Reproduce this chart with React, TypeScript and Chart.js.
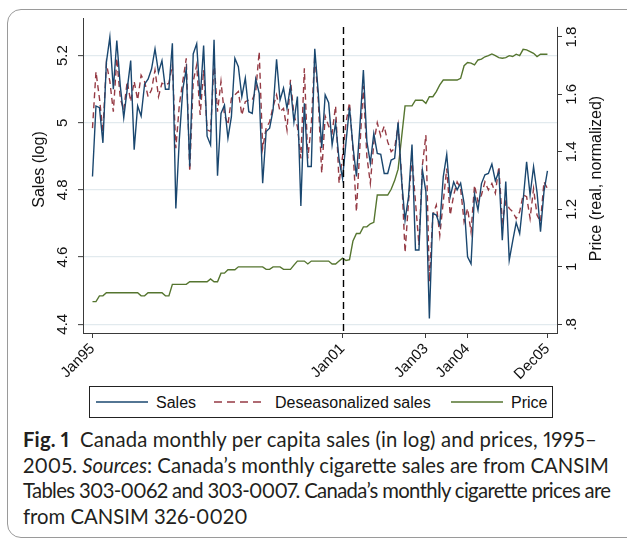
import React, { useEffect, useRef } from 'react';
import { Chart, registerables } from 'chart.js';

Chart.register(...registerables);

// Month labels Jan95 … Dec05
const MONTH_NAMES = ['Jan', 'Feb', 'Mar', 'Apr', 'May', 'Jun', 'Jul', 'Aug', 'Sep', 'Oct', 'Nov', 'Dec'];
const YEARS = ['95', '96', '97', '98', '99', '00', '01', '02', '03', '04', '05'];
const MONTHS = YEARS.flatMap((y) => MONTH_NAMES.map((m) => m + y));

const X_TICK_LABELS = ['Jan95', 'Jan01', 'Jan03', 'Jan04', 'Dec05'];
const BREAK_MONTH = 'Jan01';

const SALES_TICKS = [4.4, 4.6, 4.8, 5.0, 5.2];
const SALES_TICK_LABELS = ['4.4', '4.6', '4.8', '5', '5.2'];
const PRICE_TICKS = [0.8, 1.0, 1.2, 1.4, 1.6, 1.8];
const PRICE_TICK_LABELS = ['.8', '1', '1.2', '1.4', '1.6', '1.8'];

// Monthly per capita sales (log)
const SALES = [
  4.84, 5.05, 5.045, 4.94, 5.18, 5.255, 5.10, 5.245, 5.11, 5.015, 5.10, 5.185,
  4.92, 5.05, 5.02, 5.115, 5.13, 5.16, 5.22, 5.15, 5.185, 5.10, 5.10, 5.237,
  4.745, 4.95, 5.10, 5.16, 4.87, 5.205, 5.235, 5.07, 5.23, 4.96, 4.934, 5.247,
  4.842, 5.028, 5.053, 4.954, 5.018, 5.192, 5.167, 5.078, 5.133, 5.033, 5.028, 5.13,
  5.088, 4.82, 4.974, 4.984, 5.038, 5.189, 5.068, 5.103, 5.043, 5.108, 5.003, 5.078,
  4.752, 5.058, 4.87, 4.87, 5.22, 5.09, 4.925, 5.083, 5.06, 4.934, 5.0, 4.89,
  4.834, 4.943, 5.045, 4.93, 4.84, 4.99, 5.157, 4.945, 4.88, 4.968, 4.909, 4.906,
  4.849, 4.849, 4.889, 4.894, 5.001, 4.83, 4.71, 4.78, 4.935, 4.621, 4.621, 4.859,
  4.795, 4.417, 4.73, 4.725, 4.695, 4.839, 4.906, 4.78, 4.824, 4.8, 4.82, 4.76,
  4.601, 4.58, 4.787, 4.74, 4.819, 4.845, 4.849, 4.877, 4.827, 4.854, 4.65, 4.825,
  4.591, 4.648, 4.703, 4.67, 4.768, 4.884, 4.785, 4.869, 4.793, 4.676, 4.795, 4.857,
];

// Seasonally adjusted sales (log)
const DESEASONALIZED = [
  4.984, 5.152, 5.073, 4.974, 5.177, 5.123, 5.033, 5.192, 5.073, 5.038, 5.123, 5.063,
  5.123, 5.068, 5.142, 5.123, 5.078, 5.098, 5.157, 5.078, 5.118, 5.113, 5.118, 5.172,
  4.924, 5.053, 5.123, 5.192, 4.855, 5.123, 5.172, 5.023, 5.157, 4.979, 4.974, 5.182,
  5.033, 5.123, 5.023, 4.994, 5.073, 5.083, 5.093, 5.023, 5.063, 5.068, 5.068, 5.093,
  5.212, 4.924, 4.984, 5.003, 5.048, 5.083, 5.033, 5.043, 4.979, 5.128, 5.023, 4.989,
  4.894, 5.162, 4.894, 4.994, 5.202, 5.07, 4.85, 5.02, 4.99, 4.97, 5.05, 4.82,
  4.90, 5.0, 5.06, 4.92, 4.735, 4.93, 5.11, 4.90, 4.82, 4.94, 5.0, 4.96,
  4.99, 4.943, 4.914, 4.924, 4.993, 4.844, 4.614, 4.765, 4.894, 4.765, 4.636, 4.874,
  4.963, 4.527, 4.725, 4.755, 4.665, 4.765, 4.864, 4.725, 4.785, 4.824, 4.804, 4.705,
  4.745, 4.675, 4.814, 4.765, 4.785, 4.824, 4.8, 4.819, 4.79, 4.869, 4.705, 4.765,
  4.745, 4.735, 4.715, 4.735, 4.785, 4.78, 4.715, 4.804, 4.725, 4.705, 4.824, 4.804,
];

// Real cigarette price, normalized
const PRICE = [
  0.879, 0.879, 0.899, 0.899, 0.91, 0.91, 0.91, 0.91, 0.91, 0.91, 0.91, 0.91,
  0.91, 0.91, 0.899, 0.899, 0.91, 0.91, 0.91, 0.91, 0.91, 0.899, 0.899, 0.939,
  0.939, 0.939, 0.939, 0.939, 0.948, 0.948, 0.948, 0.948, 0.948, 0.948, 0.958, 0.948,
  0.948, 0.978, 0.978, 0.99, 0.99, 0.99, 1.0, 1.0, 1.0, 1.0, 1.0, 1.0,
  1.0, 1.0, 0.991, 0.991, 1.0, 1.0, 1.0, 0.991, 0.991, 0.991, 1.006, 1.02,
  1.02, 1.02, 1.01, 1.02, 1.02, 1.02, 1.02, 1.02, 1.02, 1.01, 1.01, 1.02,
  1.03, 1.022, 1.025, 1.09, 1.116, 1.116, 1.139, 1.139, 1.15, 1.155, 1.25, 1.25,
  1.25, 1.25, 1.27, 1.30, 1.34, 1.45, 1.56, 1.56, 1.56, 1.58, 1.58, 1.58,
  1.569, 1.592, 1.592, 1.61, 1.633, 1.65, 1.65, 1.65, 1.65, 1.65, 1.656, 1.70,
  1.711, 1.709, 1.703, 1.72, 1.723, 1.731, 1.735, 1.741, 1.735, 1.728, 1.726, 1.728,
  1.735, 1.732, 1.74, 1.735, 1.757, 1.755, 1.749, 1.743, 1.732, 1.74, 1.74, 1.74,
];

const SERIES_NAMES = ['Sales', 'Deseasonalized sales', 'Price'];
const SALES_TITLE = 'Sales (log)';
const PRICE_TITLE = 'Price (real, normalized)';

const NAVY = '#1a476f';
const MAROON = '#953a44';
const GREEN = '#55752f';
const AXIS = '#3a3a3a';
const CHART_FONT = '"Liberation Sans", Arial, Helvetica, sans-serif';

const toPoints = (arr: number[]) => arr.map((v, i) => ({ x: i, y: v }));

const decorPlugin = {
  id: 'decor',
  afterDatasetsDraw(chart: any) {
    const { ctx, chartArea, scales } = chart;
    const x = Math.round(scales.x.getPixelForValue(MONTHS.indexOf(BREAK_MONTH))) + 0.5;
    const top = scales.yPrice.getPixelForValue(1.835);
    ctx.save();
    ctx.strokeStyle = '#000';
    ctx.lineWidth = 1.4;
    ctx.setLineDash([7, 4]);
    ctx.beginPath();
    ctx.moveTo(x, top);
    ctx.lineTo(x, chartArea.bottom);
    ctx.stroke();
    ctx.restore();
  },
  afterDraw(chart: any) {
    const { ctx, chartArea, scales } = chart;
    ctx.save();
    // right axis line
    const rx = chartArea.right + 0.5;
    ctx.strokeStyle = AXIS;
    ctx.lineWidth = 1;
    ctx.beginPath();
    ctx.moveTo(rx, scales.yPrice.getPixelForValue(1.835));
    ctx.lineTo(rx, chartArea.bottom + 0.5);
    ctx.stroke();

    ctx.fillStyle = '#111';
    ctx.textAlign = 'center';
    ctx.textBaseline = 'middle';
    const vtext = (t: string, x: number, y: number) => {
      ctx.save();
      ctx.translate(x, y);
      ctx.rotate(-Math.PI / 2);
      ctx.fillText(t, 0, 0);
      ctx.restore();
    };
    ctx.font = `15px ${CHART_FONT}`;
    SALES_TICKS.forEach((v, k) => vtext(SALES_TICK_LABELS[k], chartArea.left - 20, scales.y.getPixelForValue(v)));
    PRICE_TICKS.forEach((v, k) => vtext(PRICE_TICK_LABELS[k], chartArea.right + 15, scales.yPrice.getPixelForValue(v)));
    ctx.font = `16px ${CHART_FONT}`;
    const midY = (chartArea.top + chartArea.bottom) / 2;
    vtext(SALES_TITLE, chartArea.left - 43, midY - 6);
    vtext(PRICE_TITLE, chartArea.right + 40, midY + 3);
    ctx.restore();
  },
};

function SalesChart() {
  const ref = useRef<HTMLCanvasElement | null>(null);
  useEffect(() => {
    if (!ref.current) return;
    const chart = new Chart(ref.current, {
      type: 'line',
      data: {
        datasets: [
          {
            label: SERIES_NAMES[0],
            data: toPoints(SALES),
            borderColor: NAVY,
            borderWidth: 1.4,
            pointRadius: 0,
            tension: 0,
            yAxisID: 'y',
          },
          {
            label: SERIES_NAMES[1],
            data: toPoints(DESEASONALIZED),
            borderColor: MAROON,
            borderWidth: 1.4,
            borderDash: [6, 4],
            pointRadius: 0,
            tension: 0,
            yAxisID: 'y',
          },
          {
            label: SERIES_NAMES[2],
            data: toPoints(PRICE),
            borderColor: GREEN,
            borderWidth: 1.4,
            pointRadius: 0,
            tension: 0,
            yAxisID: 'yPrice',
          },
        ],
      },
      options: {
        animation: false,
        responsive: false,
        devicePixelRatio: 1,
        layout: { padding: { top: 18, left: 0, right: 0, bottom: 0 } },
        plugins: { legend: { display: false }, tooltip: { enabled: false } },
        font: { family: CHART_FONT },
        scales: {
          x: {
            type: 'linear',
            min: -2.735,
            max: 133.75,
            afterBuildTicks: (s: any) => {
              s.ticks = X_TICK_LABELS.map((l) => ({ value: MONTHS.indexOf(l) }));
            },
            afterFit: (s: any) => {
              s.height = 57;
            },
            ticks: {
              autoSkip: false,
              minRotation: 45,
              maxRotation: 45,
              padding: 2,
              color: '#111',
              font: { family: CHART_FONT, size: 15 },
              callback: (v: any) => MONTHS[Math.round(Number(v))],
            },
            grid: { drawOnChartArea: false, drawTicks: true, tickLength: 5, tickColor: AXIS, tickWidth: 1 },
            border: { display: true, color: AXIS, width: 1 },
          },
          y: {
            position: 'left',
            min: 4.374,
            max: 5.312,
            afterBuildTicks: (s: any) => {
              s.ticks = SALES_TICKS.map((v) => ({ value: v }));
            },
            afterFit: (s: any) => {
              s.width = 83;
            },
            ticks: { display: false },
            grid: { color: '#e2eaee', lineWidth: 1.3, drawTicks: true, tickLength: 5, tickColor: AXIS, tickWidth: 1 },
            border: { display: true, color: AXIS, width: 1 },
          },
          yPrice: {
            position: 'right',
            min: 0.7697,
            max: 1.866,
            afterBuildTicks: (s: any) => {
              s.ticks = PRICE_TICKS.map((v) => ({ value: v }));
            },
            afterFit: (s: any) => {
              s.width = 70;
            },
            ticks: { display: false },
            grid: { drawOnChartArea: false, drawTicks: true, tickLength: 5, tickColor: AXIS, tickWidth: 1 },
            border: { display: false },
          },
        },
      },
      plugins: [decorPlugin],
    } as any);
    return () => chart.destroy();
  }, []);
  return (
    <canvas
      ref={ref}
      width={627}
      height={390}
      style={{ position: 'absolute', left: 0, top: 0, width: 627, height: 390 }}
    />
  );
}

function LegendSample({ color, dash, left }: { color: string; dash?: string; left: number }) {
  return (
    <svg width={52} height={4} style={{ position: 'absolute', left, top: 13 }}>
      <line x1={0} y1={2} x2={52} y2={2} stroke={color} strokeWidth={1.5} strokeDasharray={dash} />
    </svg>
  );
}

function Legend() {
  const text: React.CSSProperties = {
    position: 'absolute',
    top: 6,
    fontFamily: CHART_FONT,
    fontSize: 16,
    lineHeight: '19px',
    color: '#111',
    whiteSpace: 'nowrap',
  };
  return (
    <div
      style={{
        position: 'absolute',
        left: 89,
        top: 386,
        width: 462,
        height: 30,
        border: '1px solid #222',
        background: '#fff',
      }}
    >
      <LegendSample color={NAVY} left={6} />
      <div style={{ ...text, left: 66 }}>{SERIES_NAMES[0]}</div>
      <LegendSample color={MAROON} dash="8 5" left={124} />
      <div style={{ ...text, left: 185 }}>{SERIES_NAMES[1]}</div>
      <LegendSample color={GREEN} left={361} />
      <div style={{ ...text, left: 421 }}>{SERIES_NAMES[2]}</div>
    </div>
  );
}

function Caption() {
  const line: React.CSSProperties = { whiteSpace: 'nowrap', height: 25.5, lineHeight: '25.5px' };
  return (
    <div
      style={{
        position: 'absolute',
        left: 23,
        top: 427,
        fontFamily: 'Lato, "Noto Sans", sans-serif',
        fontSize: 20.3,
        fontVariantNumeric: 'proportional-nums',
        color: '#231f20',
      }}
    >
      <div style={{ ...line, letterSpacing: 0.15 }}>
        <b>Fig. 1</b>&nbsp;&nbsp;Canada monthly per capita sales (in log) and prices, 1995–
      </div>
      <div style={line}>
        2005. <i>Sources</i>: Canada’s monthly cigarette sales are from CANSIM
      </div>
      <div style={{ ...line, letterSpacing: -0.66 }}>
        Tables 303-0062 and 303-0007. Canada’s monthly cigarette prices are
      </div>
      <div style={line}>from CANSIM 326-0020</div>
    </div>
  );
}

export default function App() {
  return (
    <div style={{ position: 'absolute', left: 0, top: 0, width: 627, height: 538, overflow: 'hidden', background: '#fff' }}>
      <div
        style={{
          position: 'absolute',
          left: 7,
          top: 9,
          width: 700,
          height: 527,
          border: '1px solid #9a9a9a',
          borderRadius: 14,
        }}
      />
      <SalesChart />
      <Legend />
      <Caption />
    </div>
  );
}
